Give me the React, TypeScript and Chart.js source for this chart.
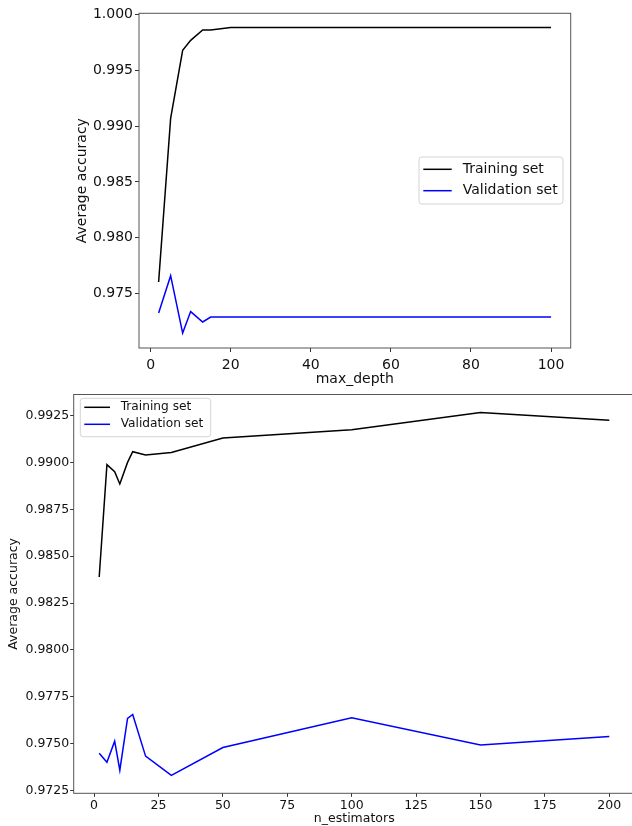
import React, { useEffect, useRef } from 'react';
import { Chart, registerables } from 'chart.js';

Chart.register(...registerables);

// ---- Top chart: max_depth ----
const depthValues = [2, 5, 8, 10, 13, 15, 20, 30, 40, 50, 60, 70, 80, 90, 100];
const depthTrain = [0.97604, 0.99069, 0.99679, 0.99769, 0.99862, 0.99862, 0.99883, 0.99883, 0.99883, 0.99883, 0.99883, 0.99883, 0.99883, 0.99883, 0.99883];
const depthVal = [0.97326, 0.97661, 0.97147, 0.97339, 0.97246, 0.9729, 0.9729, 0.9729, 0.9729, 0.9729, 0.9729, 0.9729, 0.9729, 0.9729, 0.9729];
const depthXTicks = [0, 20, 40, 60, 80, 100];
const depthYTicks = [0.975, 0.98, 0.985, 0.99, 0.995, 1.0];

// ---- Bottom chart: n_estimators ----
const estValues = [2, 5, 8, 10, 13, 15, 20, 30, 50, 100, 150, 200];
const estTrain = [0.98389, 0.98988, 0.98951, 0.98885, 0.99, 0.99057, 0.99039, 0.99053, 0.9913, 0.99174, 0.99266, 0.99225];
const estVal = [0.9745, 0.97401, 0.97514, 0.97359, 0.97635, 0.97656, 0.97434, 0.97332, 0.9748, 0.97639, 0.97493, 0.97539];
const estXTicks = [0, 25, 50, 75, 100, 125, 150, 175, 200];
const estYTicks = [0.9725, 0.975, 0.9775, 0.98, 0.9825, 0.985, 0.9875, 0.99, 0.9925];

const seriesLabels = ['Training set', 'Validation set'];
const seriesColors = ['#000000', '#0000ff'];

const FONT = '"DejaVu Sans", "Liberation Sans", sans-serif';
const TEXT = '#111111';

const framePlugin = {
  id: 'frame',
  afterDatasetsDraw(chart: any, _args: any, opts: any) {
    const { ctx, chartArea: a } = chart;
    ctx.save();
    ctx.strokeStyle = opts.color || '#555';
    ctx.lineWidth = 1;
    ctx.strokeRect(a.left, a.top, a.right - a.left, a.bottom - a.top);
    ctx.restore();
  },
};

const boxLegendPlugin = {
  id: 'boxLegend',
  afterDraw(chart: any, _args: any, o: any) {
    const ctx = chart.ctx;
    ctx.save();
    ctx.fillStyle = 'rgba(255,255,255,0.85)';
    ctx.strokeStyle = '#d4d4d4';
    ctx.lineWidth = 1;
    ctx.beginPath();
    if (ctx.roundRect) ctx.roundRect(o.x, o.y, o.w, o.h, 3);
    else ctx.rect(o.x, o.y, o.w, o.h);
    ctx.fill();
    ctx.stroke();
    chart.data.datasets.forEach((ds: any, i: number) => {
      const y = o.rowY[i];
      ctx.strokeStyle = ds.borderColor;
      ctx.lineWidth = 1.5;
      ctx.beginPath();
      ctx.moveTo(o.lineX0, y);
      ctx.lineTo(o.lineX1, y);
      ctx.stroke();
      ctx.fillStyle = TEXT;
      ctx.font = `${o.fontSize}px ${FONT}`;
      ctx.textBaseline = 'middle';
      ctx.textAlign = 'left';
      ctx.fillText(ds.label, o.textX, y);
    });
    ctx.restore();
  },
};

function makeConfig(p: any): any {
  const toPts = (xs: number[], ys: number[]) => xs.map((x, i) => ({ x, y: ys[i] }));
  return {
    type: 'line',
    data: {
      datasets: [
        {
          label: seriesLabels[0],
          data: toPts(p.xs, p.train),
          borderColor: seriesColors[0],
          borderWidth: 1.5,
          pointRadius: 0,
          tension: 0,
          fill: false,
        },
        {
          label: seriesLabels[1],
          data: toPts(p.xs, p.val),
          borderColor: seriesColors[1],
          borderWidth: 1.5,
          pointRadius: 0,
          tension: 0,
          fill: false,
        },
      ],
    },
    options: {
      animation: false,
      responsive: false,
      maintainAspectRatio: false,
      layout: { padding: p.padding },
      plugins: {
        legend: { display: false },
        tooltip: { enabled: false },
        frame: { color: '#555555' },
        boxLegend: p.legend,
      },
      scales: {
        x: {
          type: 'linear',
          min: p.xMin,
          max: p.xMax,
          afterBuildTicks: (s: any) => {
            s.ticks = p.xTicks.map((v: number) => ({ value: v }));
          },
          afterFit: (s: any) => {
            s.height = p.xHeight;
          },
          ticks: {
            font: { family: FONT, size: p.fontSize },
            color: TEXT,
            padding: p.xTickPad,
            maxRotation: 0,
            autoSkip: false,
            callback: (v: any) => String(v),
          },
          grid: { display: true, drawOnChartArea: false, drawTicks: true, tickLength: p.tickLen, color: '#333333' },
          border: { display: false },
          title: {
            display: true,
            text: p.xTitle,
            font: { family: FONT, size: p.fontSize },
            color: TEXT,
            padding: { top: 0, bottom: 0 },
          },
        },
        y: {
          type: 'linear',
          min: p.yMin,
          max: p.yMax,
          afterBuildTicks: (s: any) => {
            s.ticks = p.yTicks.map((v: number) => ({ value: v }));
          },
          afterFit: (s: any) => {
            s.width = p.yWidth;
          },
          ticks: {
            font: { family: FONT, size: p.fontSize },
            color: TEXT,
            padding: p.yTickPad,
            autoSkip: false,
            callback: (v: any) => Number(v).toFixed(p.yDecimals),
          },
          grid: { display: true, drawOnChartArea: false, drawTicks: true, tickLength: p.tickLen, color: '#333333' },
          border: { display: false },
          title: {
            display: true,
            text: 'Average accuracy',
            font: { family: FONT, size: p.fontSize },
            color: TEXT,
            padding: { top: p.yTitlePad, bottom: 0 },
          },
        },
      },
    },
    plugins: [framePlugin, boxLegendPlugin],
  };
}

function ChartCanvas({ config, width, height, top }: any) {
  const ref = useRef<HTMLCanvasElement>(null);
  useEffect(() => {
    const chart = new Chart(ref.current as HTMLCanvasElement, config);
    return () => chart.destroy();
  }, []);
  return (
    <canvas
      ref={ref}
      width={width}
      height={height}
      style={{ position: 'absolute', left: 0, top, width, height, display: 'block' }}
    />
  );
}

const topConfig = makeConfig({
  xs: depthValues,
  train: depthTrain,
  val: depthVal,
  xTicks: depthXTicks,
  yTicks: depthYTicks,
  xMin: -2.9,
  xMax: 104.9,
  yMin: 0.97013,
  yMax: 1.00011,
  xTitle: 'max_depth',
  fontSize: 14,
  yDecimals: 3,
  tickLen: 4,
  xTickPad: 5,
  yTickPad: 2,
  yTitlePad: 4,
  xHeight: 40,
  yWidth: 69,
  padding: { left: 70, top: 13.3, right: 61.3, bottom: 0 },
  legend: {
    x: 419, y: 157, w: 144, h: 47,
    lineX0: 423.3, lineX1: 451.7, textX: 462.7,
    rowY: [169.3, 190.7], fontSize: 14,
  },
});

const bottomConfig = makeConfig({
  xs: estValues,
  train: estTrain,
  val: estVal,
  xTicks: estXTicks,
  yTicks: estYTicks,
  xMin: -7.9,
  xMax: 209.9,
  yMin: 0.97236,
  yMax: 0.99362,
  xTitle: 'n_estimators',
  fontSize: 12.5,
  yDecimals: 4,
  tickLen: 3.5,
  xTickPad: 1.5,
  yTickPad: 1,
  yTitlePad: 0,
  xHeight: 32.7,
  yWidth: 67.7,
  padding: { left: 6, top: 6, right: 5.2, bottom: 0 },
  legend: {
    x: 80.3, y: 12.3, w: 130.4, h: 38.4,
    lineX0: 84.3, lineX1: 110, textX: 120.7,
    rowY: [21.3, 38.3], fontSize: 12.2,
  },
});

export default function App() {
  return (
    <div
      style={{
        position: 'absolute',
        left: 0,
        top: 0,
        width: 632,
        height: 826,
        overflow: 'hidden',
        background: '#ffffff',
      }}
    >
      <ChartCanvas config={topConfig} width={632} height={388} top={0} />
      <ChartCanvas config={bottomConfig} width={640} height={440} top={386} />
    </div>
  );
}
